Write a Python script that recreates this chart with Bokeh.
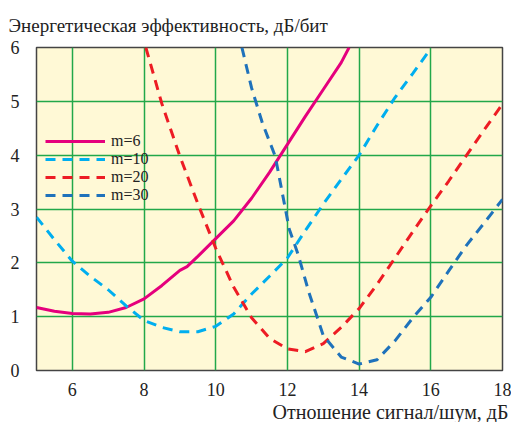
from bokeh.plotting import figure
from bokeh.models import Range1d, FixedTicker, Legend, LegendItem, Title
from bokeh.embed import file_html
from bokeh.resources import INLINE

# data
x6 = [5, 5.5, 6, 6.5, 7, 7.5, 8, 8.5, 9, 9.2, 9.5, 10, 10.5, 11, 11.5, 12, 12.5, 13, 13.5, 13.72]
y6 = [1.17, 1.1, 1.06, 1.05, 1.08, 1.17, 1.33, 1.58, 1.86, 1.93, 2.12, 2.45, 2.78, 3.2, 3.68, 4.2, 4.72, 5.22, 5.72, 6.0]

x10 = [5, 5.5, 6, 6.5, 7, 7.5, 8, 8.5, 9, 9.5, 10, 10.5, 11, 11.5, 12, 12.5, 13, 13.5, 14, 14.5, 15, 15.5, 16]
y10 = [2.85, 2.43, 2.03, 1.75, 1.5, 1.2, 0.93, 0.8, 0.72, 0.72, 0.82, 1.05, 1.42, 1.75, 2.09, 2.6, 3.09, 3.55, 4.0, 4.55, 5.07, 5.52, 5.98]

x20 = [8.05, 8.5, 9, 9.5, 10, 10.5, 11, 11.5, 12, 12.5, 13, 13.5, 14, 14.5, 15, 15.5, 16, 16.5, 17, 17.5, 18]
y20 = [6.0, 4.95, 3.98, 3.1, 2.27, 1.55, 0.98, 0.6, 0.4, 0.35, 0.5, 0.8, 1.15, 1.6, 2.09, 2.58, 3.06, 3.52, 4.0, 4.48, 4.95]

x30 = [10.73, 11.0, 11.3, 11.66, 12.05, 12.3, 12.6, 13.0, 13.5, 14.0, 14.5, 15.0, 15.5, 16.0, 16.5, 17.0, 17.5, 18.0]
y30 = [6.0, 5.25, 4.6, 3.98, 2.63, 2.15, 1.45, 0.65, 0.25, 0.12, 0.2, 0.55, 0.98, 1.36, 1.85, 2.33, 2.75, 3.18]

labels = ["m=6", "m=10", "m=20", "m=30"]
x_ticks = [6, 8, 10, 12, 14, 16, 18]
y_ticks = [0, 1, 2, 3, 4, 5, 6]

FONT = "'Liberation Serif'"

p = figure(width=511, height=422, output_backend="svg", toolbar_location=None,
           x_range=Range1d(5, 18), y_range=Range1d(0, 6),
           min_border_left=36, min_border_right=9, min_border_top=42, min_border_bottom=51)

p.background_fill_color = "#fff9d6"
p.border_fill_color = "white"
p.outline_line_color = "#444444"
p.outline_line_width = 1.5

p.xgrid.ticker = FixedTicker(ticks=x_ticks)
p.ygrid.ticker = FixedTicker(ticks=y_ticks)
for g in (p.xgrid, p.ygrid):
    g.grid_line_color = "#22a84a"
    g.grid_line_width = 1.5
    g.grid_line_alpha = 1.0

for ax in (p.xaxis, p.yaxis):
    ax.axis_line_color = None
    ax.major_tick_line_color = None
    ax.minor_tick_line_color = None
    ax.major_label_text_font = FONT
    ax.major_label_text_font_size = "18px"
    ax.major_label_text_color = "#222222"
p.xaxis.ticker = FixedTicker(ticks=x_ticks)
p.yaxis.ticker = FixedTicker(ticks=y_ticks)
p.xaxis.major_label_standoff = 6
p.yaxis.major_label_standoff = 11

r6 = p.line(x6, y6, line_color="#e5007d", line_width=3)
r10 = p.line(x10, y10, line_color="#00aeef", line_width=3, line_dash="10 7")
r20 = p.line(x20, y20, line_color="#ed1c24", line_width=3, line_dash="10 7")
r30 = p.line(x30, y30, line_color="#1f72bb", line_width=3, line_dash="10 7")

legend = Legend(items=[LegendItem(label=labels[i], renderers=[r]) for i, r in enumerate([r6, r10, r20, r30])],
                location=(9, 166), background_fill_alpha=0, border_line_color=None,
                label_text_font=FONT, label_text_font_size="16px", label_text_color="#222222",
                label_text_line_height=0.85,
                glyph_width=60, glyph_height=12, label_height=12, spacing=0, padding=2,
                label_standoff=6, margin=0)
p.add_layout(legend, "center")

t_top = Title(text="Энергетическая эффективность, дБ/бит", align="left", text_font=FONT,
              text_font_size="19px", text_font_style="normal", text_color="#222222",
              offset=-28, standoff=24)
p.add_layout(t_top, "above")

t_bot = Title(text="Отношение сигнал/шум, дБ", align="right", text_font=FONT,
              text_font_size="20px", text_font_style="normal", text_color="#222222",
              offset=-6, standoff=0)
p.add_layout(t_bot, "below")

open("out.html", "w").write(file_html(p, INLINE))
